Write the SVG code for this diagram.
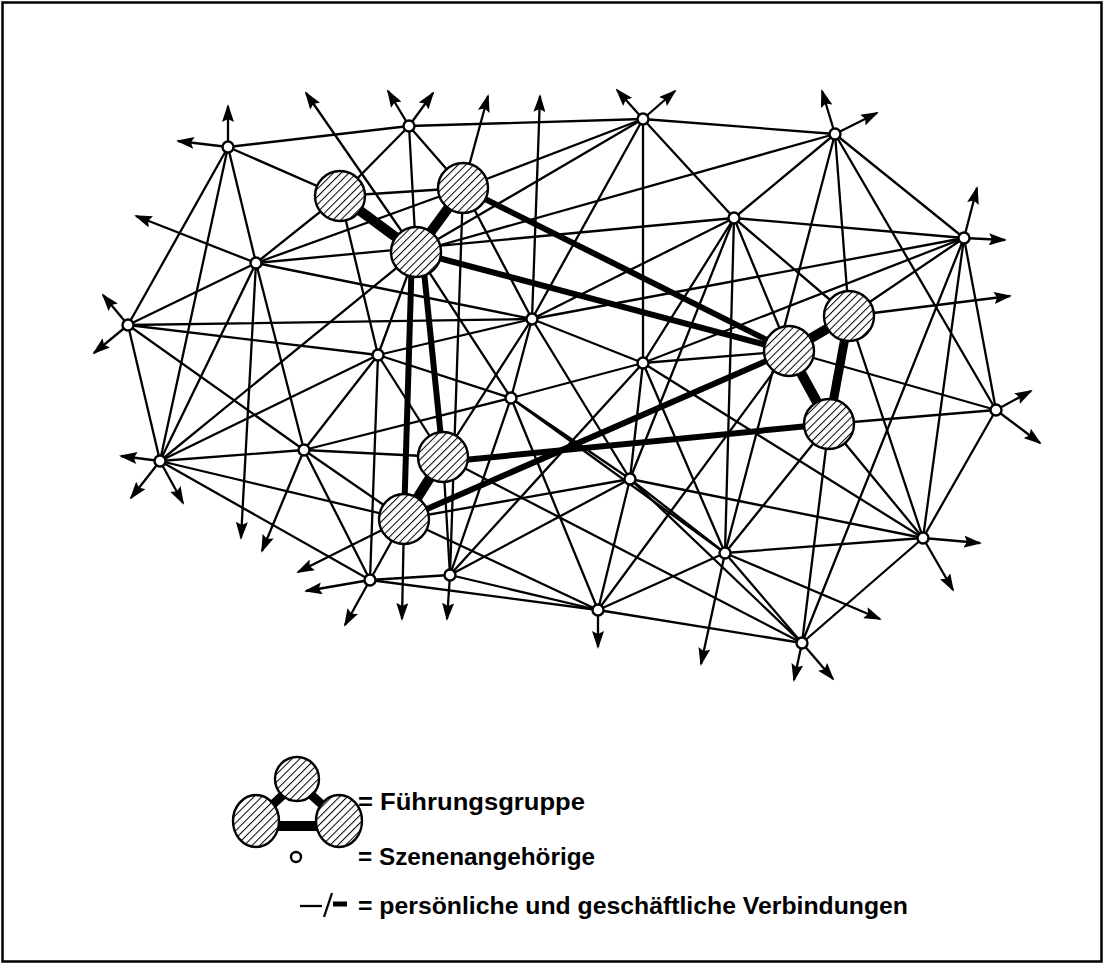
<svg xmlns="http://www.w3.org/2000/svg" width="1105" height="965" viewBox="0 0 1105 965">
<style>
.t{stroke:#000;stroke-width:2.3;fill:none;stroke-linecap:round}
.k{stroke:#000;fill:none;stroke-linecap:butt}
.a{stroke:#000;stroke-width:2.3;fill:none;marker-end:url(#ah)}
.sn{fill:#fff;stroke:#000;stroke-width:2.4}
.ln{fill:url(#hatch);stroke:#000;stroke-width:2.4}
.lbl{font-family:"Liberation Sans",Arial,sans-serif;font-weight:bold;font-size:23px;fill:#000}
</style>
<defs>
<pattern id="hatch" patternUnits="userSpaceOnUse" width="5.5" height="5.5" patternTransform="rotate(45)">
<rect width="5.5" height="5.5" fill="#fff"/>
<line x1="0" y1="0" x2="0" y2="5.5" stroke="#000" stroke-width="2"/>
</pattern>
<marker id="ah" markerUnits="userSpaceOnUse" markerWidth="18" markerHeight="12" refX="16" refY="6" orient="auto">
<path d="M0,0 L18,6 L0,12 L3,6 z" fill="#000"/>
</marker>
</defs>
<rect x="2.5" y="2.5" width="1099" height="959" fill="#fff" stroke="#000" stroke-width="2.5"/>
<g id="connectors">
<g id="thin">
<line class="t" x1="228" y1="147" x2="409" y2="126"/>
<line class="t" x1="228" y1="147" x2="340" y2="196"/>
<line class="t" x1="228" y1="147" x2="128" y2="325"/>
<line class="t" x1="228" y1="147" x2="160" y2="461"/>
<line class="t" x1="228" y1="147" x2="256" y2="263"/>
<line class="t" x1="256" y1="263" x2="463" y2="188"/>
<line class="t" x1="256" y1="263" x2="734" y2="218"/>
<line class="t" x1="256" y1="263" x2="532" y2="319"/>
<line class="t" x1="256" y1="263" x2="160" y2="461"/>
<line class="t" x1="256" y1="263" x2="128" y2="325"/>
<line class="t" x1="256" y1="263" x2="340" y2="196"/>
<line class="t" x1="128" y1="325" x2="532" y2="319"/>
<line class="t" x1="128" y1="325" x2="378" y2="355"/>
<line class="t" x1="128" y1="325" x2="304" y2="450"/>
<line class="t" x1="128" y1="325" x2="160" y2="461"/>
<line class="t" x1="160" y1="461" x2="416" y2="252"/>
<line class="t" x1="160" y1="461" x2="378" y2="355"/>
<line class="t" x1="160" y1="461" x2="404" y2="519"/>
<line class="t" x1="160" y1="461" x2="370" y2="580"/>
<line class="t" x1="160" y1="461" x2="304" y2="450"/>
<line class="t" x1="409" y1="126" x2="643" y2="119"/>
<line class="t" x1="409" y1="126" x2="340" y2="196"/>
<line class="t" x1="409" y1="126" x2="416" y2="252"/>
<line class="t" x1="409" y1="126" x2="463" y2="188"/>
<line class="t" x1="643" y1="119" x2="835" y2="134"/>
<line class="t" x1="643" y1="119" x2="643" y2="363"/>
<line class="t" x1="643" y1="119" x2="532" y2="319"/>
<line class="t" x1="643" y1="119" x2="734" y2="218"/>
<line class="t" x1="643" y1="119" x2="463" y2="188"/>
<line class="t" x1="643" y1="119" x2="416" y2="252"/>
<line class="t" x1="835" y1="134" x2="416" y2="252"/>
<line class="t" x1="835" y1="134" x2="734" y2="218"/>
<line class="t" x1="835" y1="134" x2="849" y2="316"/>
<line class="t" x1="835" y1="134" x2="996" y2="410"/>
<line class="t" x1="835" y1="134" x2="964" y2="238"/>
<line class="t" x1="835" y1="134" x2="725" y2="553"/>
<line class="t" x1="734" y1="218" x2="964" y2="238"/>
<line class="t" x1="734" y1="218" x2="725" y2="553"/>
<line class="t" x1="734" y1="218" x2="789" y2="351"/>
<line class="t" x1="734" y1="218" x2="643" y2="363"/>
<line class="t" x1="734" y1="218" x2="532" y2="319"/>
<line class="t" x1="734" y1="218" x2="849" y2="316"/>
<line class="t" x1="964" y1="238" x2="532" y2="319"/>
<line class="t" x1="964" y1="238" x2="643" y2="363"/>
<line class="t" x1="964" y1="238" x2="802" y2="643"/>
<line class="t" x1="964" y1="238" x2="923" y2="538"/>
<line class="t" x1="964" y1="238" x2="996" y2="410"/>
<line class="t" x1="964" y1="238" x2="849" y2="316"/>
<line class="t" x1="996" y1="410" x2="829" y2="424"/>
<line class="t" x1="996" y1="410" x2="789" y2="351"/>
<line class="t" x1="996" y1="410" x2="923" y2="538"/>
<line class="t" x1="923" y1="538" x2="849" y2="316"/>
<line class="t" x1="923" y1="538" x2="630" y2="479"/>
<line class="t" x1="923" y1="538" x2="725" y2="553"/>
<line class="t" x1="923" y1="538" x2="643" y2="363"/>
<line class="t" x1="923" y1="538" x2="829" y2="424"/>
<line class="t" x1="923" y1="538" x2="802" y2="643"/>
<line class="t" x1="725" y1="553" x2="598" y2="610"/>
<line class="t" x1="725" y1="553" x2="802" y2="643"/>
<line class="t" x1="725" y1="553" x2="630" y2="479"/>
<line class="t" x1="725" y1="553" x2="829" y2="424"/>
<line class="t" x1="725" y1="553" x2="643" y2="363"/>
<line class="t" x1="725" y1="553" x2="511" y2="398"/>
<line class="t" x1="598" y1="610" x2="511" y2="398"/>
<line class="t" x1="598" y1="610" x2="630" y2="479"/>
<line class="t" x1="598" y1="610" x2="789" y2="351"/>
<line class="t" x1="598" y1="610" x2="404" y2="519"/>
<line class="t" x1="598" y1="610" x2="450" y2="575"/>
<line class="t" x1="598" y1="610" x2="370" y2="580"/>
<line class="t" x1="598" y1="610" x2="802" y2="643"/>
<line class="t" x1="802" y1="643" x2="829" y2="424"/>
<line class="t" x1="802" y1="643" x2="443" y2="457"/>
<line class="t" x1="802" y1="643" x2="630" y2="479"/>
<line class="t" x1="450" y1="575" x2="443" y2="457"/>
<line class="t" x1="450" y1="575" x2="370" y2="580"/>
<line class="t" x1="450" y1="575" x2="511" y2="398"/>
<line class="t" x1="450" y1="575" x2="630" y2="479"/>
<line class="t" x1="450" y1="575" x2="463" y2="188"/>
<line class="t" x1="450" y1="575" x2="643" y2="363"/>
<line class="t" x1="370" y1="580" x2="378" y2="355"/>
<line class="t" x1="370" y1="580" x2="404" y2="519"/>
<line class="t" x1="370" y1="580" x2="304" y2="450"/>
<line class="t" x1="532" y1="319" x2="463" y2="188"/>
<line class="t" x1="532" y1="319" x2="378" y2="355"/>
<line class="t" x1="532" y1="319" x2="443" y2="457"/>
<line class="t" x1="532" y1="319" x2="643" y2="363"/>
<line class="t" x1="532" y1="319" x2="630" y2="479"/>
<line class="t" x1="532" y1="319" x2="511" y2="398"/>
<line class="t" x1="643" y1="363" x2="511" y2="398"/>
<line class="t" x1="643" y1="363" x2="630" y2="479"/>
<line class="t" x1="643" y1="363" x2="789" y2="351"/>
<line class="t" x1="511" y1="398" x2="416" y2="252"/>
<line class="t" x1="511" y1="398" x2="378" y2="355"/>
<line class="t" x1="511" y1="398" x2="304" y2="450"/>
<line class="t" x1="511" y1="398" x2="630" y2="479"/>
<line class="t" x1="378" y1="355" x2="340" y2="196"/>
<line class="t" x1="378" y1="355" x2="416" y2="252"/>
<line class="t" x1="378" y1="355" x2="443" y2="457"/>
<line class="t" x1="378" y1="355" x2="304" y2="450"/>
<line class="t" x1="304" y1="450" x2="256" y2="263"/>
<line class="t" x1="304" y1="450" x2="443" y2="457"/>
<line class="t" x1="304" y1="450" x2="404" y2="519"/>
<line class="t" x1="340" y1="196" x2="463" y2="188"/>
<line class="t" x1="630" y1="479" x2="404" y2="519"/>
<line class="t" x1="630" y1="479" x2="734" y2="218"/>
</g>
<g id="thick">
<line class="k" stroke-width="10" x1="340" y1="196" x2="416" y2="252"/>
<line class="k" stroke-width="10" x1="463" y1="188" x2="416" y2="252"/>
<line class="k" stroke-width="6" x1="412" y1="252" x2="404" y2="519"/>
<line class="k" stroke-width="6" x1="422" y1="252" x2="443" y2="457"/>
<line class="k" stroke-width="6" x1="416" y1="252" x2="789" y2="351"/>
<line class="k" stroke-width="6" x1="463" y1="188" x2="789" y2="351"/>
<line class="k" stroke-width="10" x1="849" y1="316" x2="789" y2="351"/>
<line class="k" stroke-width="10" x1="789" y1="351" x2="829" y2="424"/>
<line class="k" stroke-width="9" x1="849" y1="316" x2="829" y2="424"/>
<line class="k" stroke-width="10" x1="443" y1="457" x2="404" y2="519"/>
<line class="k" stroke-width="6" x1="443" y1="462" x2="829" y2="424"/>
<line class="k" stroke-width="6" x1="404" y1="519" x2="789" y2="351"/>
</g>
<g id="arrows">
<line class="a" x1="228" y1="147" x2="228" y2="106"/>
<line class="a" x1="228" y1="147" x2="178" y2="141"/>
<line class="a" x1="409" y1="126" x2="388" y2="91"/>
<line class="a" x1="409" y1="126" x2="433" y2="93"/>
<line class="a" x1="416" y1="252" x2="306" y2="93"/>
<line class="a" x1="463" y1="188" x2="488" y2="96"/>
<line class="a" x1="532" y1="319" x2="540" y2="96"/>
<line class="a" x1="643" y1="119" x2="617" y2="90"/>
<line class="a" x1="643" y1="119" x2="675" y2="91"/>
<line class="a" x1="835" y1="134" x2="822" y2="91"/>
<line class="a" x1="835" y1="134" x2="877" y2="113"/>
<line class="a" x1="964" y1="238" x2="977" y2="188"/>
<line class="a" x1="964" y1="238" x2="1005" y2="240"/>
<line class="a" x1="849" y1="316" x2="1010" y2="296"/>
<line class="a" x1="996" y1="410" x2="1031" y2="391"/>
<line class="a" x1="996" y1="410" x2="1040" y2="443"/>
<line class="a" x1="923" y1="538" x2="980" y2="543"/>
<line class="a" x1="923" y1="538" x2="953" y2="590"/>
<line class="a" x1="725" y1="553" x2="880" y2="619"/>
<line class="a" x1="725" y1="553" x2="701" y2="664"/>
<line class="a" x1="802" y1="643" x2="794" y2="680"/>
<line class="a" x1="802" y1="643" x2="833" y2="679"/>
<line class="a" x1="598" y1="610" x2="598" y2="647"/>
<line class="a" x1="450" y1="575" x2="447" y2="619"/>
<line class="a" x1="404" y1="519" x2="402" y2="619"/>
<line class="a" x1="404" y1="519" x2="298" y2="572"/>
<line class="a" x1="370" y1="580" x2="306" y2="591"/>
<line class="a" x1="370" y1="580" x2="345" y2="625"/>
<line class="a" x1="304" y1="450" x2="262" y2="551"/>
<line class="a" x1="256" y1="263" x2="241" y2="538"/>
<line class="a" x1="256" y1="263" x2="136" y2="216"/>
<line class="a" x1="160" y1="461" x2="121" y2="456"/>
<line class="a" x1="160" y1="461" x2="131" y2="498"/>
<line class="a" x1="160" y1="461" x2="183" y2="503"/>
<line class="a" x1="128" y1="325" x2="103" y2="295"/>
<line class="a" x1="128" y1="325" x2="94" y2="353"/>
</g>
</g>
<g id="leaders">
<circle id="L1" class="ln" cx="340" cy="196" r="25"/>
<circle id="L2" class="ln" cx="463" cy="188" r="25"/>
<circle id="L3" class="ln" cx="416" cy="252" r="25"/>
<circle id="L4" class="ln" cx="849" cy="316" r="25"/>
<circle id="L5" class="ln" cx="789" cy="351" r="25"/>
<circle id="L6" class="ln" cx="829" cy="424" r="25"/>
<circle id="L7" class="ln" cx="443" cy="457" r="25"/>
<circle id="L8" class="ln" cx="404" cy="519" r="25"/>
</g>
<g id="members">
<circle id="nA" class="sn" cx="228" cy="147" r="5.5"/>
<circle id="nB" class="sn" cx="409" cy="126" r="5.5"/>
<circle id="nC" class="sn" cx="643" cy="119" r="5.5"/>
<circle id="nD" class="sn" cx="835" cy="134" r="5.5"/>
<circle id="nE" class="sn" cx="256" cy="263" r="5.5"/>
<circle id="nF" class="sn" cx="734" cy="218" r="5.5"/>
<circle id="nG" class="sn" cx="964" cy="238" r="5.5"/>
<circle id="nH" class="sn" cx="128" cy="325" r="5.5"/>
<circle id="nI" class="sn" cx="532" cy="319" r="5.5"/>
<circle id="nJ" class="sn" cx="378" cy="355" r="5.5"/>
<circle id="nK" class="sn" cx="643" cy="363" r="5.5"/>
<circle id="nL" class="sn" cx="511" cy="398" r="5.5"/>
<circle id="nM" class="sn" cx="996" cy="410" r="5.5"/>
<circle id="nN" class="sn" cx="160" cy="461" r="5.5"/>
<circle id="nO" class="sn" cx="304" cy="450" r="5.5"/>
<circle id="nP" class="sn" cx="630" cy="479" r="5.5"/>
<circle id="nQ" class="sn" cx="725" cy="553" r="5.5"/>
<circle id="nR" class="sn" cx="923" cy="538" r="5.5"/>
<circle id="nS" class="sn" cx="370" cy="580" r="5.5"/>
<circle id="nT" class="sn" cx="450" cy="575" r="5.5"/>
<circle id="nU" class="sn" cx="598" cy="610" r="5.5"/>
<circle id="nV" class="sn" cx="802" cy="643" r="5.5"/>
</g>
<g id="legend">
<g id="legend-group">
<line class="k" stroke-width="9" x1="297" y1="782" x2="256" y2="820"/>
<line class="k" stroke-width="9" x1="297" y1="782" x2="339" y2="820"/>
<line class="k" stroke-width="10" x1="256" y1="826" x2="339" y2="826"/>
<circle class="ln" cx="297" cy="779" r="22"/>
<ellipse class="ln" cx="256" cy="821" rx="23" ry="26"/>
<ellipse class="ln" cx="339" cy="821" rx="23" ry="26"/>
</g>
<text class="lbl" x="358" y="810" textLength="227" lengthAdjust="spacingAndGlyphs">= Führungsgruppe</text>
<circle class="sn" cx="296" cy="857" r="5" stroke-width="2.8"/>
<text class="lbl" x="358" y="865" textLength="237" lengthAdjust="spacingAndGlyphs">= Szenenangehörige</text>
<g id="legend-lines">
<line x1="300" y1="906" x2="322" y2="906" stroke="#000" stroke-width="2.3"/>
<line x1="324" y1="917" x2="332" y2="893" stroke="#000" stroke-width="2.3"/>
<line x1="333" y1="904" x2="347" y2="904" stroke="#000" stroke-width="5"/>
</g>
<text class="lbl" x="358" y="914" textLength="550" lengthAdjust="spacingAndGlyphs">= persönliche und geschäftliche Verbindungen</text>
</g>
</svg>
